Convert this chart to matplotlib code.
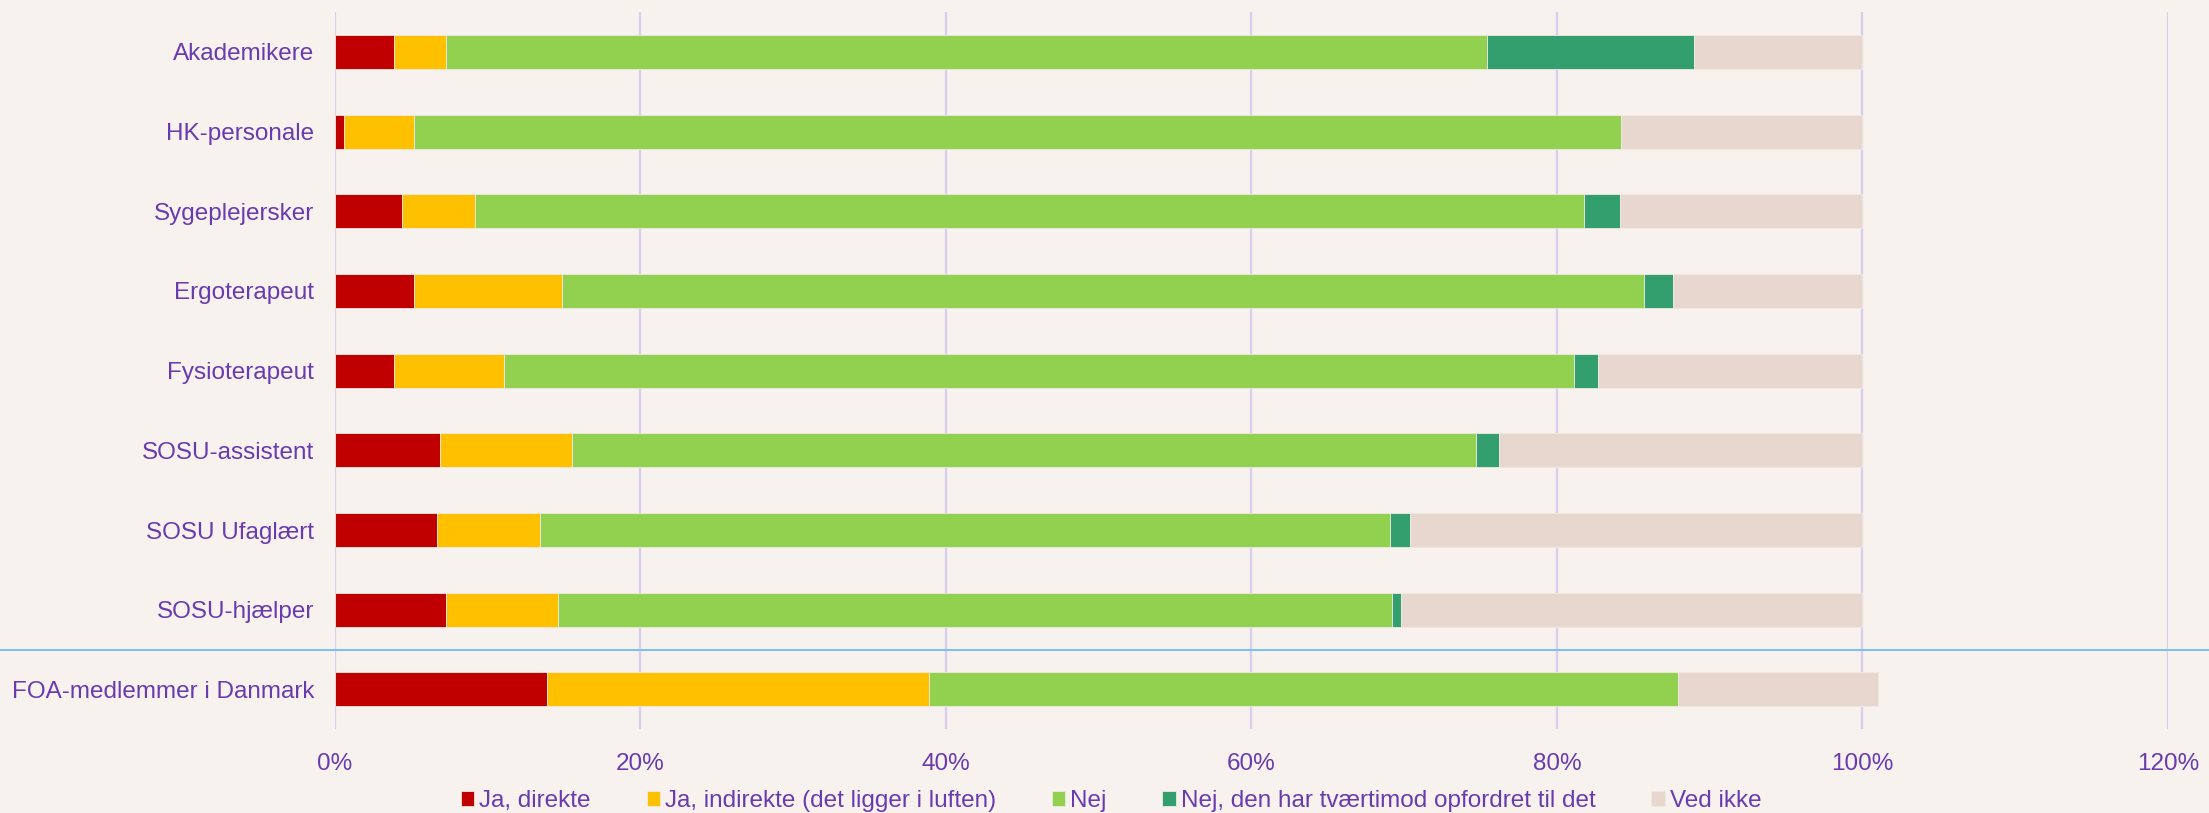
import matplotlib.pyplot as plt
import matplotlib.transforms as mtransforms
from matplotlib.lines import Line2D
import numpy as np

plt.rcParams['font.family'] = ['Liberation Sans', 'DejaVu Sans']

# categories, top to bottom
groups = ['Akademikere', 'HK-personale', 'Sygeplejersker', 'Ergoterapeut',
          'Fysioterapeut', 'SOSU-assistent', 'SOSU Ufaglært', 'SOSU-hjælper',
          'FOA-medlemmer i Danmark']

# shares in percent per answer
ja_direkte = [3.9, 0.6, 4.4, 5.2, 3.9, 6.9, 6.7, 7.3, 13.9]
ja_indirekte = [3.4, 4.6, 4.8, 9.7, 7.2, 8.6, 6.7, 7.3, 25.0]
nej = [68.1, 79.0, 72.6, 70.8, 70.0, 59.2, 55.7, 54.6, 49.0]
nej_opfordret = [13.6, 0.0, 2.3, 1.9, 1.6, 1.5, 1.3, 0.6, 0.0]
ved_ikke = [11.0, 15.8, 15.9, 12.4, 17.3, 23.8, 29.6, 30.2, 13.1]

series = ['Ja, direkte', 'Ja, indirekte (det ligger i luften)', 'Nej',
          'Nej, den har tværtimod opfordret til det', 'Ved ikke']
colors = ['#C00000', '#FFC000', '#92D050', '#339E6E', '#E8D7CE']

bg = '#F7F2EE'
txt = '#6A3BAF'
grid = '#D9CEF0'

fig = plt.figure(figsize=(22.09, 8.13), dpi=100, facecolor=bg)
ax = fig.add_axes([0.1516, 0.103, 0.8298, 0.8822])
ax.set_facecolor(bg)

y = np.arange(len(groups))
left = np.zeros(len(groups))
for vals, name, col in zip([ja_direkte, ja_indirekte, nej, nej_opfordret, ved_ikke],
                           series, colors):
    v = np.array(vals) / 100.0
    ax.barh(y, v, left=left, height=0.426, color=col, label=name,
            edgecolor='#EFE9E4', linewidth=0.6, zorder=3)
    left += v

ax.set_xlim(0, 1.2)
ax.set_ylim(len(groups) - 0.5, -0.5)
ax.set_xticks(np.arange(0, 1.21, 0.2))
ax.set_xticklabels([f'{int(round(t * 100))}%' for t in np.arange(0, 1.21, 0.2)])
ax.set_yticks(y)
ax.set_yticklabels(groups)
ax.tick_params(axis='both', length=0, labelsize=17.5, colors=txt)
ax.tick_params(axis='x', pad=17)
ax.tick_params(axis='y', pad=15)
ax.xaxis.grid(True, color=grid, linewidth=1.6, zorder=0)
ax.set_axisbelow(True)
for s in ax.spines.values():
    s.set_visible(False)

# separator above the national total
trans = mtransforms.blended_transform_factory(fig.transFigure, ax.transData)
fig.add_artist(Line2D([0, 1], [7.5, 7.5], transform=trans, color='#74C0F4',
                      linewidth=1.4))

fig.legend(loc='center', bbox_to_anchor=(0.503, 0.0148), ncol=5, frameon=False,
           fontsize=17.5, labelcolor=txt, handlelength=0.55, handleheight=0.55,
           handletextpad=0.2, columnspacing=2.3, borderpad=0)

fig.savefig('out.png', dpi=100, facecolor=bg)
